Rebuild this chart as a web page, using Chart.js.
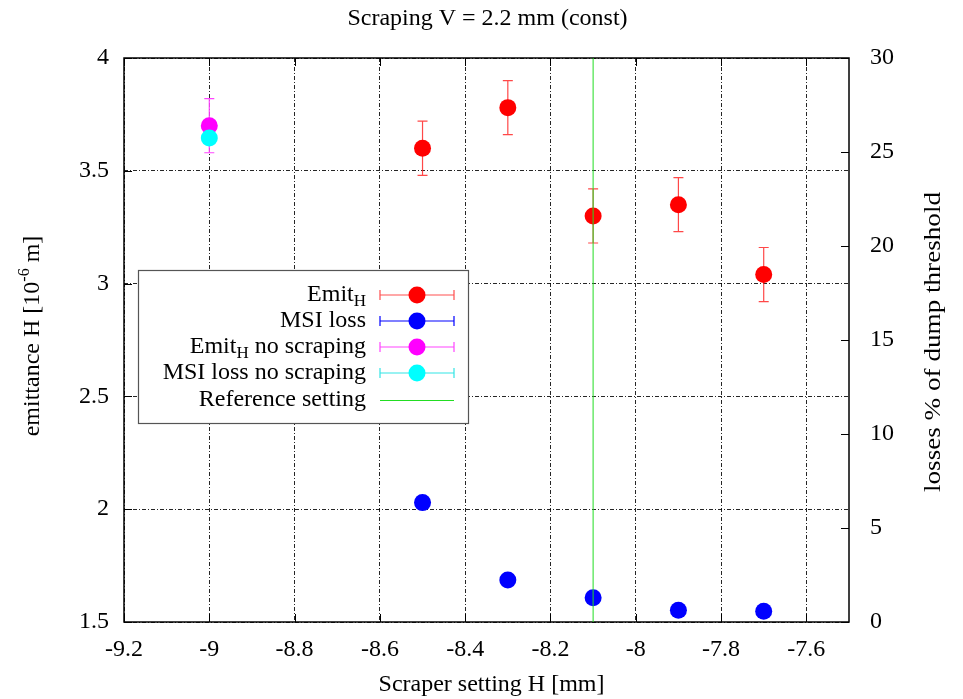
<!DOCTYPE html>
<html>
<head>
<meta charset="utf-8">
<script src="https://cdn.jsdelivr.net/npm/chart.js@4"></script>
<style>
html, body { margin: 0; padding: 0; background: #fff; }
#wrap { width: 963px; height: 699px; }
</style>
</head>
<body>
<div id="wrap"><canvas id="chart"></canvas></div>
<script>
// --- DATA ---
const chartTitle = 'Scraping V = 2.2 mm (const)';
const xTicks = [-9.2, -9, -8.8, -8.6, -8.4, -8.2, -8, -7.8, -7.6];
const yTicks = [1.5, 2, 2.5, 3, 3.5, 4];
const y2Ticks = [0, 5, 10, 15, 20, 25, 30];

const scraperH = [-8.5, -8.3, -8.1, -7.9, -7.7];
const emitH = [3.60, 3.78, 3.30, 3.35, 3.04];
const emitErr = [0.12, 0.12, 0.12, 0.12, 0.12];
const msiLoss = [6.35, 2.23, 1.29, 0.62, 0.57];

const noScrapeH = [-9];
const emitNoScrape = [3.70];
const emitNoScrapeErr = [0.12];
const msiNoScrape = [25.75];

const refSetting = -8.1;

const FONT = "'Liberation Serif', 'DejaVu Serif', serif";

const toPoints = (xs, ys) => xs.map((x, i) => ({ x: x, y: ys[i] }));

// --- PLUGIN: frame, inner tics, error bars, titles, legend ---
const gnuplotLook = {
    id: 'gnuplotLook',
    beforeDatasetsDraw(chart) {
        const ctx = chart.ctx;
        const a = chart.chartArea;
        const xs = chart.scales.x, ys = chart.scales.y, y2 = chart.scales.y2;
        ctx.save();
        ctx.strokeStyle = '#000';
        ctx.lineWidth = 1;
        ctx.setLineDash([]);
        // inner tic marks
        ctx.beginPath();
        xTicks.forEach(v => {
            const px = Math.round(xs.getPixelForValue(v)) + 0.5;
            ctx.moveTo(px, a.bottom); ctx.lineTo(px, a.bottom - 8);
            ctx.moveTo(px, a.top); ctx.lineTo(px, a.top + 8);
        });
        yTicks.forEach(v => {
            const py = Math.round(ys.getPixelForValue(v)) + 0.5;
            ctx.moveTo(a.left, py); ctx.lineTo(a.left + 8, py);
        });
        y2Ticks.forEach(v => {
            const py = Math.round(y2.getPixelForValue(v)) + 0.5;
            ctx.moveTo(a.right, py); ctx.lineTo(a.right - 8, py);
        });
        ctx.stroke();
        // frame
        ctx.lineWidth = 1.5;
        ctx.strokeRect(a.left, a.top, a.right - a.left, a.bottom - a.top);

        // error bars
        chart.data.datasets.forEach(ds => {
            if (!ds.errors) return;
            const sc = chart.scales[ds.yAxisID];
            ctx.strokeStyle = ds.errColor;
            ctx.lineWidth = 1.2;
            ctx.beginPath();
            ds.data.forEach((p, i) => {
                const px = xs.getPixelForValue(p.x);
                const top = sc.getPixelForValue(p.y + ds.errors[i]);
                const bot = sc.getPixelForValue(p.y - ds.errors[i]);
                ctx.moveTo(px, top); ctx.lineTo(px, bot);
                ctx.moveTo(px - 5, top); ctx.lineTo(px + 5, top);
                ctx.moveTo(px - 5, bot); ctx.lineTo(px + 5, bot);
            });
            ctx.stroke();
        });
        ctx.restore();
    },
    afterDraw(chart) {
        const ctx = chart.ctx;
        const a = chart.chartArea;
        const midY = (a.top + a.bottom) / 2;
        ctx.save();
        ctx.fillStyle = '#000';
        ctx.textBaseline = 'middle';

        // title
        ctx.font = '24px ' + FONT;
        ctx.textAlign = 'center';
        ctx.fillText(chartTitle, (a.left + a.right) / 2 + 1, 19);

        // x title
        ctx.fillText('Scraper setting H [mm]', (a.left + a.right) / 2 + 5, 685);

        // right title (gnuplot renders it a little wider)
        ctx.save();
        ctx.translate(934, midY + 2);
        ctx.rotate(-Math.PI / 2);
        const rt = 'losses % of dump threshold';
        const rw = ctx.measureText(rt).width;
        ctx.scale(300 / rw, 1);
        ctx.fillText(rt, 0, 0);
        ctx.restore();

        // left title with superscript
        ctx.save();
        ctx.translate(33, midY - 4);
        ctx.rotate(-Math.PI / 2);
        const parts = [
            { t: 'emittance H [10', f: '24px ', dy: 0 },
            { t: '-6', f: '16px ', dy: -8 },
            { t: ' m]', f: '24px ', dy: 0 }
        ];
        let total = 0;
        parts.forEach(p => { ctx.font = p.f + FONT; total += ctx.measureText(p.t).width; });
        let cx = -total / 2;
        ctx.textAlign = 'left';
        parts.forEach(p => {
            ctx.font = p.f + FONT;
            ctx.fillText(p.t, cx, p.dy);
            cx += ctx.measureText(p.t).width;
        });
        ctx.restore();

        // legend
        const box = { l: 138, t: 270, r: 468, b: 423 };
        ctx.fillStyle = '#fff';
        ctx.fillRect(box.l, box.t, box.r - box.l, box.b - box.t);
        ctx.strokeStyle = '#555';
        ctx.lineWidth = 1.2;
        ctx.strokeRect(box.l + 0.5, box.t + 0.5, box.r - box.l, box.b - box.t);

        const rows = [
            { main: 'Emit', sub: 'H', rest: '', color: '#ff0000', err: 'rgba(255,60,60,0.9)' },
            { main: 'MSI loss', sub: '', rest: '', color: '#0000ff', err: '#0000ff' },
            { main: 'Emit', sub: 'H', rest: ' no scraping', color: '#ff00ff', err: '#ff44ff' },
            { main: 'MSI loss no scraping', sub: '', rest: '', color: '#00ffff', err: '#33e5e5' },
            { main: 'Reference setting', sub: '', rest: '', line: '#22dd22' }
        ];
        const rowY = [295, 321, 347, 373, 400];
        rows.forEach((r, i) => {
            const y = rowY[i];
            const segs = [
                { t: r.main, f: '24px ', dy: 0 },
                { t: r.sub, f: '17px ', dy: 7 },
                { t: r.rest, f: '24px ', dy: 0 }
            ];
            let w = 0;
            segs.forEach(s => { ctx.font = s.f + FONT; w += ctx.measureText(s.t).width; });
            let x = 366 - w;
            ctx.fillStyle = '#000';
            ctx.textAlign = 'left';
            segs.forEach(s => {
                ctx.font = s.f + FONT;
                ctx.fillText(s.t, x, y + s.dy);
                x += ctx.measureText(s.t).width;
            });
            if (r.line) {
                ctx.strokeStyle = r.line;
                ctx.lineWidth = 1;
                ctx.beginPath();
                ctx.moveTo(380, y + 0.5); ctx.lineTo(454, y + 0.5);
                ctx.stroke();
            } else {
                ctx.strokeStyle = r.err;
                ctx.lineWidth = 1.2;
                ctx.beginPath();
                ctx.moveTo(380, y); ctx.lineTo(454, y);
                ctx.moveTo(380, y - 5); ctx.lineTo(380, y + 5);
                ctx.moveTo(454, y - 5); ctx.lineTo(454, y + 5);
                ctx.stroke();
                ctx.fillStyle = r.color;
                ctx.beginPath();
                ctx.arc(417, y, 8.5, 0, Math.PI * 2);
                ctx.fill();
            }
        });
        ctx.restore();
    }
};

const gridDash = { color: 'rgba(0,0,0,0.85)', lineWidth: 1, drawTicks: false };

new Chart(document.getElementById('chart'), {
    type: 'scatter',
    data: {
        datasets: [
            {
                label: 'Emit_H',
                data: toPoints(scraperH, emitH),
                errors: emitErr,
                errColor: 'rgba(255,40,40,0.85)',
                yAxisID: 'y',
                backgroundColor: '#ff0000',
                pointRadius: 8.5,
                pointBorderWidth: 0,
                order: 5
            },
            {
                label: 'MSI loss',
                data: toPoints(scraperH, msiLoss),
                yAxisID: 'y2',
                backgroundColor: '#0000ff',
                pointRadius: 8.5,
                pointBorderWidth: 0,
                order: 4
            },
            {
                label: 'Emit_H no scraping',
                data: toPoints(noScrapeH, emitNoScrape),
                errors: emitNoScrapeErr,
                errColor: '#ff44ff',
                yAxisID: 'y',
                backgroundColor: '#ff00ff',
                pointRadius: 8.5,
                pointBorderWidth: 0,
                order: 3
            },
            {
                label: 'MSI loss no scraping',
                data: toPoints(noScrapeH, msiNoScrape),
                yAxisID: 'y2',
                backgroundColor: '#00ffff',
                pointRadius: 8.5,
                pointBorderWidth: 0,
                order: 2
            },
            {
                label: 'Reference setting',
                type: 'line',
                data: [{ x: refSetting, y: yTicks[0] }, { x: refSetting, y: yTicks[yTicks.length - 1] }],
                yAxisID: 'y',
                borderColor: '#22dd22',
                borderWidth: 1,
                pointRadius: 0,
                showLine: true,
                order: 0
            }
        ]
    },
    options: {
        responsive: true,
        maintainAspectRatio: false,
        animation: false,
        layout: { padding: { top: 58, left: 0, right: 0, bottom: 0 } },
        plugins: {
            legend: { display: false },
            tooltip: { enabled: false }
        },
        scales: {
            x: {
                type: 'linear',
                min: -9.2,
                max: -7.5,
                afterFit: s => { s.height = 77; },
                afterBuildTicks: s => { s.ticks = xTicks.map(v => ({ value: v })); },
                border: { display: false, dash: [4, 2, 1, 2] },
                grid: gridDash,
                ticks: {
                    color: '#000',
                    padding: 13,
                    font: { family: FONT, size: 24 },
                    maxRotation: 0,
                    callback: v => String(v)
                }
            },
            y: {
                position: 'left',
                min: 1.5,
                max: 4,
                afterFit: s => { s.width = 124; },
                afterBuildTicks: s => { s.ticks = yTicks.map(v => ({ value: v })); },
                border: { display: false, dash: [4, 2, 1, 2] },
                grid: gridDash,
                ticks: {
                    color: '#000',
                    padding: 15,
                    font: { family: FONT, size: 24 },
                    callback: v => String(v)
                }
            },
            y2: {
                position: 'right',
                min: 0,
                max: 30,
                afterFit: s => { s.width = 114; },
                afterBuildTicks: s => { s.ticks = y2Ticks.map(v => ({ value: v })); },
                border: { display: false },
                grid: { display: false, drawTicks: false },
                ticks: {
                    color: '#000',
                    padding: 21,
                    font: { family: FONT, size: 24 },
                    callback: v => String(v)
                }
            }
        }
    },
    plugins: [gnuplotLook]
});
</script>
</body>
</html>
